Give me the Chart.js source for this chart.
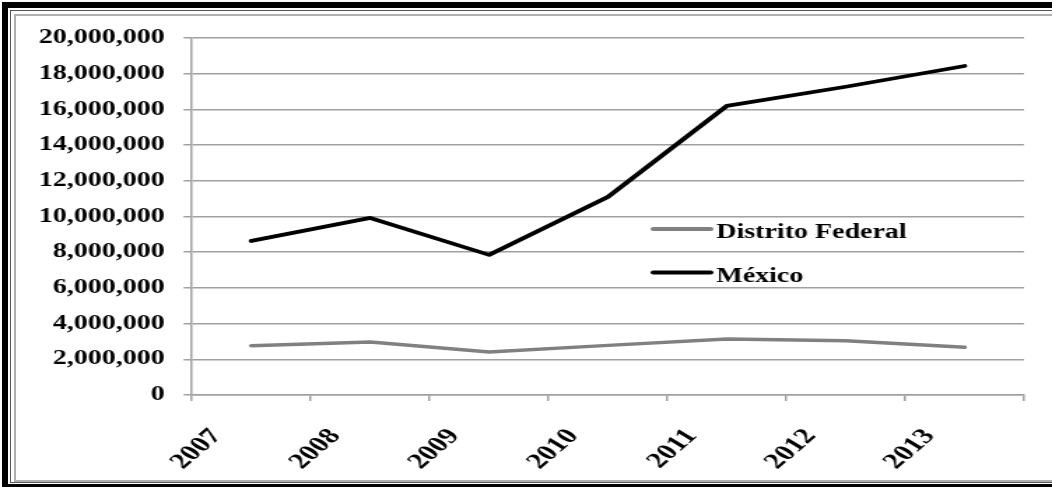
<!DOCTYPE html>
<html>
<head>
<meta charset="utf-8">
<script src="https://cdn.jsdelivr.net/npm/chart.js@4.4.1/dist/chart.umd.min.js"></script>
<style>
  html, body { margin: 0; padding: 0; background: #fff; overflow: hidden; }
  #page { position: relative; width: 1052px; height: 487px; overflow: hidden; background: #fff; }
  /* the chart is laid out narrow and widened to the page width */
  #wrap { position: absolute; left: 0; top: 0; width: 752px; height: 487px;
          transform: scaleX(1.39894); transform-origin: 0 0; }
  .rule { position: absolute; box-sizing: border-box; pointer-events: none; }
</style>
</head>
<body>
<div id="page">
  <div id="wrap"><canvas id="c" width="752" height="487"></canvas></div>
  <!-- page frame: thick outer band, thin dark rule, light inner rule -->
  <div class="rule" style="left:2px;top:2px;width:1100px;height:488px;border:6px solid #000;"></div>
  <div class="rule" style="left:10px;top:10px;width:1100px;height:473px;border:1.5px solid #555;"></div>
  <div class="rule" style="left:14px;top:14px;width:1100px;height:468px;border:2px solid #b0b0b0;"></div>
</div>
<script>
const years = ['2007', '2008', '2009', '2010', '2011', '2012', '2013'];
const distritoFederal = [2760000, 2970000, 2410000, 2780000, 3140000, 3040000, 2670000];
const mexico = [8630000, 9920000, 7850000, 11100000, 16200000, 17270000, 18430000];
const seriesNames = ['Distrito Federal', 'México'];
const yTicks = [0, 2000000, 4000000, 6000000, 8000000, 10000000, 12000000, 14000000, 16000000, 18000000, 20000000];

const labelFont = { family: 'Liberation Serif', weight: 'bold', size: 20 };
const yearFont = { family: 'Liberation Serif', weight: 'bold', size: 22 };
const ruleGray = '#a0a0a0';

// legend drawn inside the plot area, to the right of the 2010–2011 span
const innerLegend = {
  id: 'innerLegend',
  afterDatasetsDraw(chart) {
    const ctx = chart.ctx;
    ctx.save();
    chart.data.datasets.forEach((ds, i) => {
      const y = 229 + i * 43.5;
      ctx.strokeStyle = ds.borderColor;
      ctx.lineWidth = 4;
      ctx.lineCap = 'round';
      ctx.beginPath();
      ctx.moveTo(467, y);
      ctx.lineTo(508, y);
      ctx.stroke();
      ctx.fillStyle = '#000';
      ctx.font = 'bold 20px "Liberation Serif"';
      ctx.textBaseline = 'alphabetic';
      ctx.textAlign = 'left';
      ctx.fillText(ds.label, 512, y + 8.5 + i);
    });
    ctx.restore();
  }
};

new Chart(document.getElementById('c'), {
  type: 'line',
  data: {
    labels: years,
    datasets: [
      {
        label: seriesNames[0],
        data: distritoFederal,
        borderColor: '#808080',
        backgroundColor: '#808080',
        borderWidth: 3.5,
        pointRadius: 0,
        tension: 0,
        borderCapStyle: 'round',
        borderJoinStyle: 'round'
      },
      {
        label: seriesNames[1],
        data: mexico,
        borderColor: '#000000',
        backgroundColor: '#000000',
        borderWidth: 3.8,
        pointRadius: 0,
        tension: 0,
        borderCapStyle: 'round',
        borderJoinStyle: 'round'
      }
    ]
  },
  options: {
    responsive: false,
    animation: false,
    devicePixelRatio: 1,
    layout: { padding: { top: 38, right: 20, left: 0, bottom: 0 } },
    plugins: {
      legend: { display: false },
      tooltip: { enabled: false }
    },
    scales: {
      x: {
        offset: true,
        afterFit(scale) { scale.height = 92; },
        border: { color: ruleGray, width: 1.5 },
        grid: { offset: true, drawOnChartArea: false, color: ruleGray, lineWidth: 1.5, tickLength: 6 },
        ticks: {
          autoSkip: false,
          minRotation: 50,
          maxRotation: 50,
          padding: 23,
          labelOffset: -25,
          color: '#000',
          font: yearFont
        }
      },
      y: {
        min: 0,
        max: 20000000,
        afterFit(scale) { scale.width = 137.2; },
        afterBuildTicks(scale) { scale.ticks = yTicks.map(v => ({ value: v })); },
        border: { color: ruleGray, width: 1.5 },
        grid: { color: ruleGray, lineWidth: 1.5, tickLength: 6 },
        ticks: {
          padding: 13.5,
          color: '#000',
          font: labelFont,
          callback: v => Number(v).toLocaleString('en-US')
        }
      }
    }
  },
  plugins: [innerLegend]
});
</script>
</body>
</html>
